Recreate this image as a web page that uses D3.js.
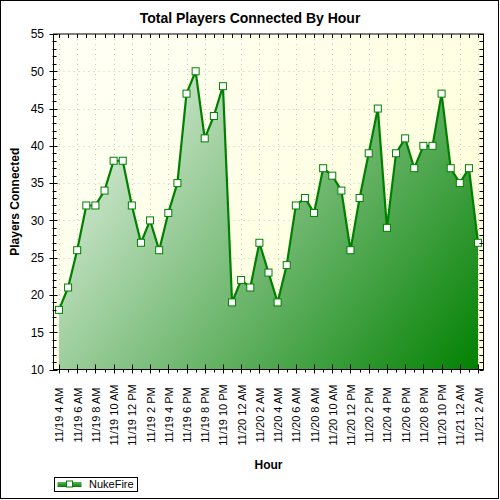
<!DOCTYPE html>
<html><head><meta charset="utf-8">
<script src="https://cdn.jsdelivr.net/npm/d3@7"></script>
<style>body{margin:0;background:#fff}svg{display:block}text{font-family:"Liberation Sans",Arial,sans-serif}</style>
</head><body>
<script>
const categories = [
"11/19 4 AM","11/19 5 AM","11/19 6 AM","11/19 7 AM","11/19 8 AM","11/19 9 AM","11/19 10 AM","11/19 11 AM",
"11/19 12 PM","11/19 1 PM","11/19 2 PM","11/19 3 PM","11/19 4 PM","11/19 5 PM","11/19 6 PM","11/19 7 PM",
"11/19 8 PM","11/19 9 PM","11/19 10 PM","11/19 11 PM","11/20 12 AM","11/20 1 AM","11/20 2 AM","11/20 3 AM",
"11/20 4 AM","11/20 5 AM","11/20 6 AM","11/20 7 AM","11/20 8 AM","11/20 9 AM","11/20 10 AM","11/20 11 AM",
"11/20 12 PM","11/20 1 PM","11/20 2 PM","11/20 3 PM","11/20 4 PM","11/20 5 PM","11/20 6 PM","11/20 7 PM",
"11/20 8 PM","11/20 9 PM","11/20 10 PM","11/20 11 PM","11/21 12 AM","11/21 1 AM","11/21 2 AM"];
const players = [18,21,26,32,32,34,38,38,32,27,30,26,31,35,47,50,41,44,48,19,22,21,27,23,
                 19,24,32,33,31,37,36,34,26,33,39,45,29,39,41,37,40,40,47,37,35,37,27];
const tickLabels = categories.filter((d,i)=>i%2===0);
const yTicks = [10,15,20,25,30,35,40,45,50,55];
const seriesName = "NukeFire";
const title = "Total Players Connected By Hour";
const xTitle = "Hour", yTitle = "Players Connected";

const W=500,H=500;
const L=53.5,R=483.5,T=34,B=369.5;
const svg=d3.select("body").append("svg").attr("width",W).attr("height",H);
const defs=svg.append("defs");
const bg=defs.append("linearGradient").attr("id","bg").attr("gradientUnits","userSpaceOnUse")
  .attr("x1",L).attr("y1",T).attr("x2",R).attr("y2",B);
bg.append("stop").attr("offset",0).attr("stop-color","#fffff6");
bg.append("stop").attr("offset",1).attr("stop-color","#ffffd6");
const ag=defs.append("linearGradient").attr("id","ag").attr("gradientUnits","userSpaceOnUse")
  .attr("x1",L).attr("y1",T).attr("x2",R).attr("y2",B);
ag.append("stop").attr("offset",0).attr("stop-color","#ffffff");
ag.append("stop").attr("offset",1).attr("stop-color","#008000");
const lg=defs.append("linearGradient").attr("id","lg").attr("x1",0).attr("y1",0).attr("x2",0).attr("y2",1);
lg.append("stop").attr("offset",0).attr("stop-color","#60b060");
lg.append("stop").attr("offset",1).attr("stop-color","#008000");

svg.append("rect").attr("x",0.5).attr("y",0.5).attr("width",498).attr("height",498)
  .attr("fill","#fff").attr("stroke","#000");

const x=d3.scalePoint().domain(categories).range([L,R]).padding(0.6);
const y=d3.scaleLinear().domain([10,55]).range([B,T]);

svg.append("rect").attr("x",L).attr("y",T).attr("width",R-L).attr("height",B-T).attr("fill","url(#bg)");

// grid
const g=svg.append("g");
g.selectAll(".gy").data(yTicks.slice(1,-1)).join("line")
  .attr("x1",L).attr("x2",R).attr("y1",d=>Math.round(y(d))+0.5).attr("y2",d=>Math.round(y(d))+0.5)
  .attr("stroke","#c8c8c8").attr("stroke-dasharray","1,4");
g.selectAll(".gx").data(tickLabels).join("line")
  .attr("x1",d=>Math.round(x(d))+0.5).attr("x2",d=>Math.round(x(d))+0.5).attr("y1",T).attr("y2",B)
  .attr("stroke","#c8c8c8").attr("stroke-dasharray","1,4");

// area + line
const area=d3.area().x((d,i)=>x(categories[i])).y0(B).y1(d=>y(d));
svg.append("path").datum(players).attr("d",area).attr("fill","url(#ag)");
const line=d3.line().x((d,i)=>x(categories[i])).y(d=>y(d));
svg.append("path").datum(players).attr("d",line).attr("fill","none").attr("stroke","#008000").attr("stroke-width",2.2).attr("stroke-linejoin","round");
svg.selectAll(".m").data(players).join("rect")
  .attr("x",(d,i)=>x(categories[i])-3.5).attr("y",d=>y(d)-3.5).attr("width",7).attr("height",7)
  .attr("fill","#fff").attr("stroke","#008000").attr("stroke-width",1);

// frame
svg.append("rect").attr("x",L).attr("y",T).attr("width",R-L).attr("height",B-T).attr("fill","none").attr("stroke","#000");

// y ticks
const minorY=d3.range(10,56);
svg.selectAll(".ly").data(minorY).join("line")
  .attr("x1",d=>d%5===0?L-4:L-1).attr("x2",d=>d%5===0?L+4:L+3)
  .attr("y1",d=>Math.round(y(d))+0.5).attr("y2",d=>Math.round(y(d))+0.5).attr("stroke","#000");
svg.selectAll(".ry").data(minorY).join("line")
  .attr("x1",R-4).attr("x2",R)
  .attr("y1",d=>Math.round(y(d))+0.5).attr("y2",d=>Math.round(y(d))+0.5).attr("stroke","#000");
svg.selectAll(".yl").data(yTicks).join("text")
  .attr("x",44).attr("y",d=>y(d)).attr("dy","0.36em").attr("text-anchor","end")
  .attr("font-size",12).attr("fill","#000").text(d=>d);

// x ticks
svg.selectAll(".bx").data(categories).join("line")
  .attr("x1",d=>Math.round(x(d))+0.5).attr("x2",d=>Math.round(x(d))+0.5)
  .attr("y1",(d,i)=>i%2===0?B-5:B).attr("y2",(d,i)=>i%2===0?B+4:B+3).attr("stroke","#000");
svg.selectAll(".tx").data(categories).join("line")
  .attr("x1",d=>Math.round(x(d))+0.5).attr("x2",d=>Math.round(x(d))+0.5)
  .attr("y1",T).attr("y2",T+4).attr("stroke","#000");
svg.selectAll(".xl").data(tickLabels).join("text")
  .attr("transform",d=>`translate(${x(d)+0.5},415) rotate(-90)`)
  .attr("text-anchor","middle").attr("dy","0.36em").attr("font-size",11).attr("fill","#000").text(d=>d);

// titles
svg.append("text").attr("x",250).attr("y",22.5).attr("text-anchor","middle")
  .attr("font-size",14).attr("font-weight","bold").text(title);
svg.append("text").attr("x",(L+R)/2).attr("y",468.5).attr("text-anchor","middle")
  .attr("font-size",12).attr("font-weight","bold").text(xTitle);
svg.append("text").attr("transform",`translate(18.5,${(T+B)/2}) rotate(-90)`).attr("text-anchor","middle")
  .attr("font-size",12).attr("font-weight","bold").text(yTitle);

// legend
const lgG=svg.append("g");
lgG.append("rect").attr("x",54.5).attr("y",477.5).attr("width",83).attr("height",14).attr("fill","#fff").attr("stroke","#000");
lgG.append("rect").attr("x",57.5).attr("y",482).attr("width",24).attr("height",5).attr("fill","url(#lg)");
lgG.append("rect").attr("x",66.5).attr("y",481).attr("width",6).attr("height",6).attr("fill","#fff").attr("stroke","#008000");
lgG.append("text").attr("x",89).attr("y",484.5).attr("dy","0.36em").attr("font-size",11).text(seriesName);
</script>
</body></html>
